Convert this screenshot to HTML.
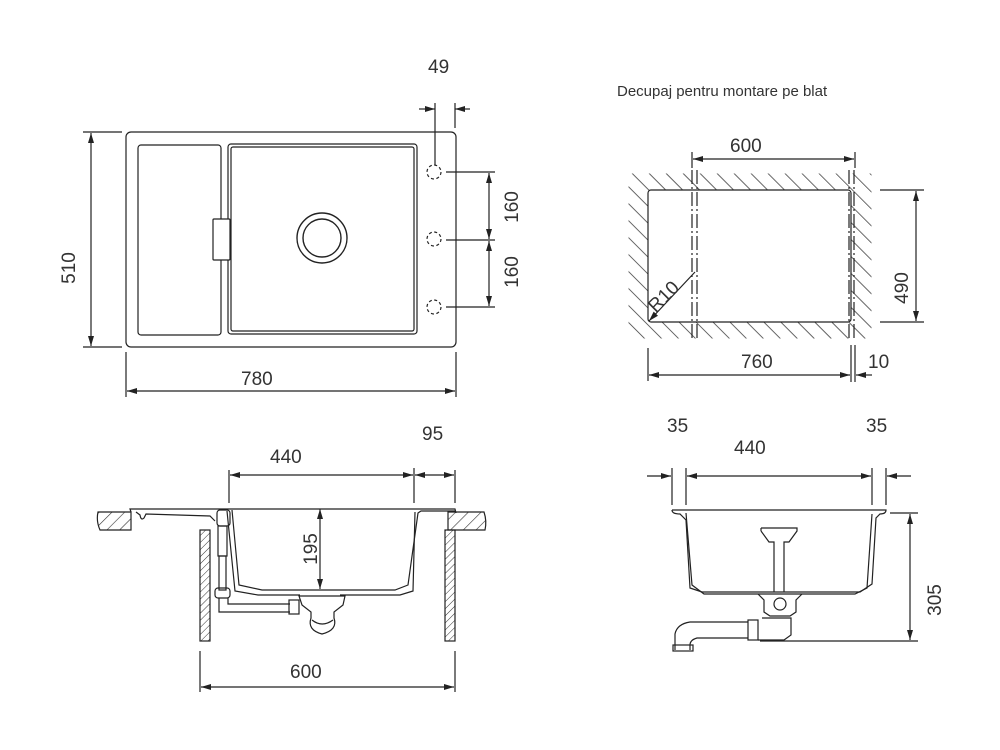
<!DOCTYPE html>
<html><head><meta charset="utf-8"><style>
html,body{margin:0;padding:0;background:#fff;}
svg{display:block;}
text{font-family:"Liberation Sans",sans-serif;fill:#333;font-size:19px;}
</style></head><body>
<svg width="1000" height="750" viewBox="0 0 1000 750" xmlns="http://www.w3.org/2000/svg">
<defs>
<marker id="a" viewBox="0 0 10 6" refX="10" refY="3" markerWidth="10" markerHeight="6" orient="auto-start-reverse" markerUnits="userSpaceOnUse"><path d="M0,0 L10,3 L0,6 z" fill="#222"/></marker>
<pattern id="h" width="12" height="12" patternUnits="userSpaceOnUse" patternTransform="rotate(-45)"><line x1="0" y1="0" x2="0" y2="12" stroke="#333" stroke-width="1.5"/></pattern>
<pattern id="h2" width="5" height="5" patternUnits="userSpaceOnUse" patternTransform="rotate(45)"><line x1="0" y1="0" x2="0" y2="5" stroke="#333" stroke-width="1"/></pattern>
<pattern id="h3" width="9" height="9" patternUnits="userSpaceOnUse" patternTransform="rotate(45)"><line x1="0" y1="0" x2="0" y2="9" stroke="#333" stroke-width="1.2"/></pattern>
</defs>
<g stroke="#222" fill="none" stroke-width="1.2">
<!-- TOP LEFT -->
<rect x="126" y="132" width="330" height="215" rx="5"/>
<rect x="138" y="145" width="83" height="190" rx="3"/>
<rect x="228" y="144" width="189" height="190" rx="3"/>
<rect x="231" y="147" width="183" height="184" rx="2"/>
<rect x="213" y="219" width="17" height="41" rx="1" fill="#fff"/>
<circle cx="322" cy="238" r="25" stroke-width="1.4"/>
<circle cx="322" cy="238" r="19" stroke-width="1.4"/>
<g stroke-dasharray="3,2.5"><circle cx="434" cy="172" r="7"/><circle cx="434" cy="239" r="7"/><circle cx="434" cy="307" r="7"/></g>
<line x1="83" y1="132" x2="122" y2="132"/><line x1="83" y1="347" x2="122" y2="347"/>
<line x1="91" y1="133" x2="91" y2="346" marker-start="url(#a)" marker-end="url(#a)"/>
<line x1="126" y1="352" x2="126" y2="397"/><line x1="456" y1="352" x2="456" y2="397"/>
<line x1="127" y1="391" x2="455" y2="391" marker-start="url(#a)" marker-end="url(#a)"/>
<line x1="435" y1="103" x2="435" y2="165"/><line x1="455" y1="103" x2="455" y2="128"/>
<line x1="419" y1="109" x2="435" y2="109" marker-end="url(#a)"/><line x1="470" y1="109" x2="455" y2="109" marker-end="url(#a)"/>
<line x1="446" y1="172" x2="495" y2="172"/><line x1="446" y1="240" x2="495" y2="240"/><line x1="446" y1="307" x2="495" y2="307"/>
<line x1="489" y1="173" x2="489" y2="239" marker-start="url(#a)" marker-end="url(#a)"/>
<line x1="489" y1="241" x2="489" y2="306" marker-start="url(#a)" marker-end="url(#a)"/>
<!-- TOP RIGHT -->
<path d="M627,172 H873 V340 H627 Z M651,190 Q648,190 648,193 V322 H848 Q851,322 851,319 V190 Z" fill="url(#h)" stroke="none" fill-rule="evenodd"/>
<rect x="648" y="190" width="203" height="132" rx="3" fill="#fff"/>
<rect x="627" y="172" width="246" height="168" fill="none" stroke="#fff" stroke-width="3"/>
<g stroke-dasharray="14,3,2,3"><line x1="692" y1="170" x2="692" y2="338"/><line x1="697" y1="170" x2="697" y2="338"/><line x1="849" y1="170" x2="849" y2="338"/><line x1="854" y1="170" x2="854" y2="338"/></g>
<line x1="692" y1="152" x2="692" y2="168"/><line x1="855" y1="152" x2="855" y2="168"/>
<line x1="693" y1="159" x2="854" y2="159" marker-start="url(#a)" marker-end="url(#a)"/>
<line x1="880" y1="190" x2="924" y2="190"/><line x1="880" y1="322" x2="924" y2="322"/>
<line x1="916" y1="191" x2="916" y2="321" marker-start="url(#a)" marker-end="url(#a)"/>
<line x1="648" y1="348" x2="648" y2="381"/><line x1="851" y1="345" x2="851" y2="382"/><line x1="855" y1="345" x2="855" y2="382"/>
<line x1="649" y1="375" x2="850" y2="375" marker-start="url(#a)" marker-end="url(#a)"/>
<line x1="872" y1="375" x2="856" y2="375" marker-end="url(#a)"/>
<line x1="695" y1="272" x2="649" y2="321" marker-end="url(#a)"/>
<!-- BOTTOM LEFT -->
<line x1="229" y1="470" x2="229" y2="503"/><line x1="414" y1="468" x2="414" y2="503"/><line x1="455" y1="470" x2="455" y2="503"/>
<line x1="230" y1="475" x2="413" y2="475" marker-start="url(#a)" marker-end="url(#a)"/>
<line x1="415" y1="475" x2="454" y2="475" marker-start="url(#a)" marker-end="url(#a)"/>
<path d="M98,512 H131 V530 H100 Q96,521 98,512 Z" fill="url(#h3)"/>
<path d="M448,512 H484 Q487,521 485,530 H448 Z" fill="url(#h3)"/>
<rect x="200" y="530" width="10" height="111" fill="url(#h2)"/>
<rect x="445" y="530" width="10" height="111" fill="url(#h2)"/>
<path d="M131,512 L130,509 H455 L456,513"/>
<path d="M136,512 L140,515 Q141,521 144,518 L146,514 L210,516 L215,521"/>
<path d="M232,510 L239,585 L262,590 H395 L408,585 L418,513 L421,511 L455,511"/>
<path d="M227,511 L235,591 L258,595 H300 M340,595 H400 L413,591 L415,512"/>
<rect x="217" y="510" width="13" height="16" rx="3"/>
<rect x="218" y="526" width="9" height="30"/><rect x="219" y="556" width="7" height="34"/>
<rect x="215" y="588" width="15" height="10" rx="3"/>
<path d="M219,598 V612 H290 M228,598 V604 H290"/>
<rect x="289" y="600" width="10" height="14"/>
<path d="M299,596 H345 L343,605 L334,612 V618 Q338,630 322,634 Q307,630 311,618 V612 L302,605 Z"/>
<path d="M312,620 Q322,628 333,620"/>
<line x1="320" y1="509" x2="320" y2="589" marker-start="url(#a)" marker-end="url(#a)"/>
<line x1="200" y1="651" x2="200" y2="692"/><line x1="455" y1="651" x2="455" y2="692"/>
<line x1="201" y1="687" x2="454" y2="687" marker-start="url(#a)" marker-end="url(#a)"/>
<!-- BOTTOM RIGHT -->
<line x1="672" y1="468" x2="672" y2="505"/><line x1="686" y1="468" x2="686" y2="505"/>
<line x1="872" y1="468" x2="872" y2="505"/><line x1="886" y1="468" x2="886" y2="505"/>
<line x1="647" y1="476" x2="671" y2="476" marker-end="url(#a)"/>
<line x1="687" y1="476" x2="871" y2="476" marker-start="url(#a)" marker-end="url(#a)"/>
<line x1="911" y1="476" x2="887" y2="476" marker-end="url(#a)"/>
<path d="M672,510 H886 Q886,514 880,514 L876,518 L872,584 L860,592 H702 L690,588 L686,520 L680,514 Q672,514 672,510"/>
<path d="M686,513 L692,585 L704,594 H855 L867,588 L872,514"/>
<path d="M761,528 H797 V531 L789,542 H784 V592 M761,531 L769,542 H774 V592 M761,528 V531 M797,528 V531"/>
<path d="M758,594 L764,600 V612 L770,616 H790 L796,612 V600 L802,594"/>
<circle cx="780" cy="604" r="6"/>
<path d="M762,618 H791 V635 L784,640 H758"/>
<rect x="748" y="620" width="10" height="20"/>
<path d="M748,622 H690 Q677,624 675,634 V650 M748,638 H697 Q690,640 690,645 V650"/>
<rect x="673" y="645" width="20" height="6"/>
<line x1="890" y1="513" x2="918" y2="513"/><line x1="760" y1="641" x2="918" y2="641"/>
<line x1="910" y1="514" x2="910" y2="640" marker-start="url(#a)" marker-end="url(#a)"/>
</g>
<!-- texts -->
<text x="428" y="73">49</text>
<text x="241" y="385">780</text>
<text transform="translate(75,268) rotate(-90)" text-anchor="middle">510</text>
<text transform="translate(518,207) rotate(-90)" text-anchor="middle">160</text>
<text transform="translate(518,272) rotate(-90)" text-anchor="middle">160</text>
<text x="617" y="96" style="font-size:15px">Decupaj pentru montare pe blat</text>
<text x="730" y="152">600</text>
<text x="741" y="368">760</text>
<text x="868" y="368">10</text>
<text transform="translate(908,288) rotate(-90)" text-anchor="middle">490</text>
<text transform="translate(668,301) rotate(-45)" text-anchor="middle">R10</text>
<text x="270" y="463">440</text>
<text x="422" y="440">95</text>
<text transform="translate(317,549) rotate(-90)" text-anchor="middle">195</text>
<text x="290" y="678">600</text>
<text x="667" y="432">35</text>
<text x="734" y="454">440</text>
<text x="866" y="432">35</text>
<text transform="translate(941,600) rotate(-90)" text-anchor="middle">305</text>
</svg>
</body></html>
